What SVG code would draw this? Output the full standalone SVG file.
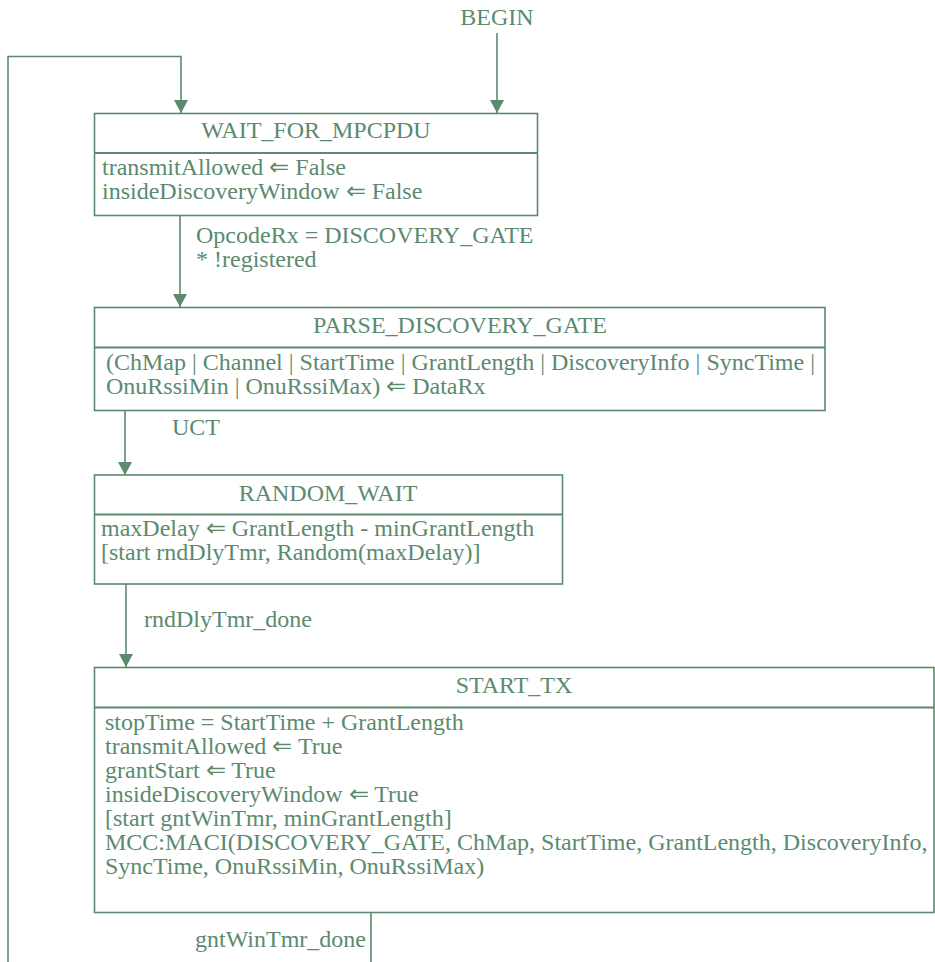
<svg xmlns="http://www.w3.org/2000/svg" width="935" height="962" viewBox="0 0 935 962">
<style>
text{font-family:"Liberation Serif","Times New Roman",serif;font-size:24px;fill:#5b8a6f}
.t{text-anchor:middle}
.box{fill:#fff;stroke:#5b8a6f;stroke-width:1.6}
.div{stroke:#5b8a6f;stroke-width:1.8}
.c{fill:none;stroke:#5b8a6f;stroke-width:1.6}
</style>
<defs>
<marker id="ah" markerUnits="userSpaceOnUse" markerWidth="14" markerHeight="14" refX="13" refY="7" orient="auto">
<path d="M0,0 L13,7 L0,14 z" fill="#5b8a6f"/>
</marker>
</defs>
<g id="connectors">
<path class="c" d="M497,33 V113" marker-end="url(#ah)"/>
<path class="c" d="M8,962 V56.5 H181 V113" marker-end="url(#ah)"/>
<path class="c" d="M180,216 V307" marker-end="url(#ah)"/>
<path class="c" d="M125,411 V475" marker-end="url(#ah)"/>
<path class="c" d="M126,584 V667" marker-end="url(#ah)"/>
<path class="c" d="M371,913 V962"/>
<text x="497" y="25" class="t">BEGIN</text>
<text x="196" y="243">OpcodeRx = DISCOVERY_GATE</text>
<text x="196" y="267">* !registered</text>
<text x="172" y="435">UCT</text>
<text x="144" y="627">rndDlyTmr_done</text>
<text x="366" y="947" text-anchor="end">gntWinTmr_done</text>
</g>
<g id="WAIT_FOR_MPCPDU">
<rect class="box" x="94.5" y="113.5" width="443" height="102"/>
<line class="div" x1="94.5" y1="153" x2="537.5" y2="153"/>
<text x="316" y="138" class="t">WAIT_FOR_MPCPDU</text>
<text x="102" y="175">transmitAllowed ⇐ False</text>
<text x="102" y="199">insideDiscoveryWindow ⇐ False</text>
</g>
<g id="PARSE_DISCOVERY_GATE">
<rect class="box" x="94.5" y="307.5" width="730.5" height="103"/>
<line class="div" x1="94.5" y1="347.5" x2="825" y2="347.5"/>
<text x="460" y="333" class="t">PARSE_DISCOVERY_GATE</text>
<text x="106" y="370">(ChMap | Channel | StartTime | GrantLength | DiscoveryInfo | SyncTime |</text>
<text x="106" y="394">OnuRssiMin | OnuRssiMax) ⇐ DataRx</text>
</g>
<g id="RANDOM_WAIT">
<rect class="box" x="94.5" y="475" width="468" height="109"/>
<line class="div" x1="94.5" y1="514.5" x2="562.5" y2="514.5"/>
<text x="328" y="501" class="t">RANDOM_WAIT</text>
<text x="101" y="536">maxDelay ⇐ GrantLength - minGrantLength</text>
<text x="101" y="560">[start rndDlyTmr, Random(maxDelay)]</text>
</g>
<g id="START_TX">
<rect class="box" x="94.5" y="667.5" width="839.5" height="245"/>
<line class="div" x1="94.5" y1="707.5" x2="934" y2="707.5"/>
<text x="514" y="693" class="t">START_TX</text>
<text x="105" y="730">stopTime = StartTime + GrantLength</text>
<text x="105" y="754">transmitAllowed ⇐ True</text>
<text x="105" y="778">grantStart ⇐ True</text>
<text x="105" y="802">insideDiscoveryWindow ⇐ True</text>
<text x="105" y="826">[start gntWinTmr, minGrantLength]</text>
<text x="105" y="850">MCC:MACI(DISCOVERY_GATE, ChMap, StartTime, GrantLength, DiscoveryInfo,</text>
<text x="105" y="874">SyncTime, OnuRssiMin, OnuRssiMax)</text>
</g>
</svg>
